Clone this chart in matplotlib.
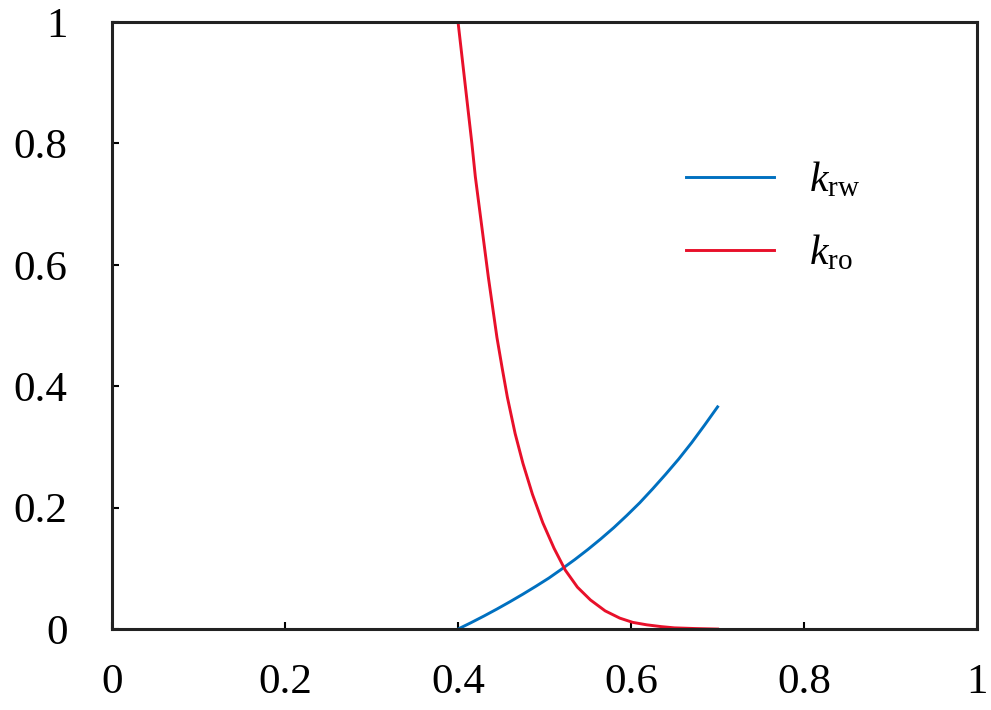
import matplotlib
matplotlib.use("Agg")
import matplotlib.pyplot as plt

plt.rcParams['font.family'] = ['Liberation Serif', 'DejaVu Serif']
plt.rcParams['mathtext.fontset'] = 'custom'
plt.rcParams['mathtext.rm'] = 'Liberation Serif'
plt.rcParams['mathtext.it'] = 'Liberation Serif:italic'

# water relative permeability
sw_krw = [0.40, 0.415, 0.43, 0.445, 0.46, 0.475, 0.49, 0.505, 0.52, 0.535, 0.55,
          0.565, 0.58, 0.595, 0.61, 0.625, 0.64, 0.655, 0.67, 0.685, 0.70]
krw = [0.0, 0.0105, 0.0215, 0.033, 0.045, 0.0575, 0.0705, 0.084, 0.099, 0.1145, 0.131,
       0.1485, 0.167, 0.187, 0.208, 0.231, 0.255, 0.28, 0.307, 0.336, 0.366]

# oil relative permeability
sw_kro = [0.400, 0.404, 0.408, 0.412, 0.416, 0.420, 0.425, 0.430, 0.435, 0.440,
          0.445, 0.451, 0.457, 0.466, 0.475, 0.486, 0.498, 0.511, 0.524, 0.538,
          0.553, 0.570, 0.587, 0.602, 0.618, 0.635, 0.65, 0.675, 0.70]
kro = [1.0, 0.95, 0.90, 0.85, 0.80, 0.745, 0.69, 0.635, 0.58, 0.53,
       0.48, 0.43, 0.382, 0.322, 0.273, 0.222, 0.175, 0.133, 0.097, 0.069,
       0.048, 0.030, 0.018, 0.011, 0.007, 0.004, 0.002, 0.0008, 0.0]

xticks = [0, 0.2, 0.4, 0.6, 0.8, 1]
yticks = [0, 0.2, 0.4, 0.6, 0.8, 1]
tick_labels = ['0', '0.2', '0.4', '0.6', '0.8', '1']

fig = plt.figure(figsize=(9.91, 7.10), dpi=100)
ax = fig.add_axes([0.113, 0.114, 0.873, 0.855])

ax.plot(sw_krw, krw, color='#0070C0', lw=2.1, label=r'$k_{\rm rw}$')
ax.plot(sw_kro, kro, color='#E8102A', lw=2.1, label=r'$k_{\rm ro}$')

ax.set_xlim(0, 1)
ax.set_ylim(0, 1)
ax.set_xticks(xticks)
ax.set_xticklabels(tick_labels)
ax.set_yticks(yticks)
ax.set_yticklabels(tick_labels)
ax.tick_params(direction='in', length=5, width=1.5, labelsize=31)
ax.tick_params(axis='x', pad=25)
ax.tick_params(axis='y', pad=32)
for s in ax.spines.values():
    s.set_linewidth(2.2)
    s.set_color('#222222')

ax.legend(loc='upper left', bbox_to_anchor=(0.664, 0.772), frameon=False,
          fontsize=30, handlelength=2.1, handletextpad=0.85, labelspacing=0.8,
          borderpad=0, borderaxespad=0)

fig.savefig('out.png', dpi=100)
